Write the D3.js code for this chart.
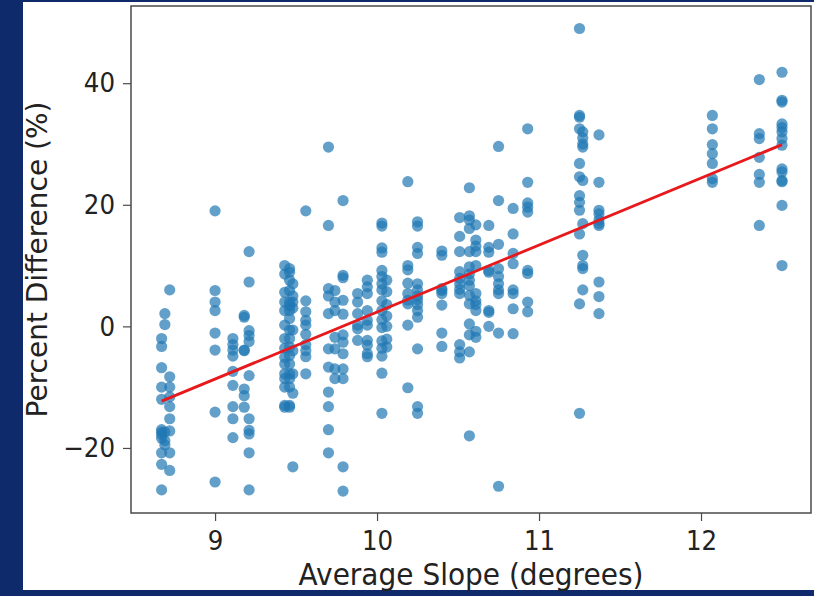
<!DOCTYPE html>
<html lang="en">

<head>
    <meta charset="UTF-8">
    <title>Average Slope vs Percent Difference</title>
    <style>
        * {
            margin: 0;
            padding: 0;
        }

        html,
        body {
            overflow: hidden;
            background: #0e2a6b;
        }

        text {
            font-family: 'DejaVu Sans', sans-serif;
        }
    </style>
</head>

<body>
    <div id="chart"></div>
    <script src="https://cdn.jsdelivr.net/npm/d3@7"></script>
    <script>
        // slope columns (degrees) and the percent differences stacked in each column
        const slopeColumns = [8.67, 8.69, 8.72, 9.0, 9.11, 9.18, 9.21, 9.43, 9.46, 9.48, 9.56, 9.70, 9.74, 9.79,
            9.88, 9.94, 10.03, 10.06, 10.19, 10.25, 10.40, 10.51, 10.57, 10.61, 10.69, 10.75, 10.84, 10.93,
            11.25, 11.27, 11.37, 12.07, 12.36, 12.50]

        const percentDiffs = [
            [-2.0, -3.3, -6.8, -10.0, -12.0, -17.0, -17.4, -17.8, -18.4, -20.8, -22.7, -26.9],
            [2.1, 0.3, -17.4, -18.8, -19.5],
            [6.0, -8.3, -10.0, -11.6, -13.2, -15.2, -17.2, -20.8, -23.7],
            [19.0, 5.9, 4.0, 2.6, -1.1, -3.9, -14.1, -25.6],
            [-2.0, -3.0, -3.9, -4.9, -7.4, -9.7, -13.2, -15.2, -18.3],
            [1.8, 1.5, -3.9, -4.0, -10.3, -11.4, -13.3],
            [12.3, 7.3, -0.7, -1.5, -2.5, -8.1, -15.2, -17.1, -17.7, -20.8, -26.9],
            [10.0, 8.6, 5.6, 4.0, 2.6, 0.2, -2.0, -3.6, -5.1, -6.2, -7.8, -8.6, -10.0, -13.0, -13.3],
            [9.5, 8.9, 7.6, 5.9, 4.0, 3.4, 2.6, 1.3, -0.6, -2.0, -3.4, -4.8, -6.2, -7.8, -8.6, -10.0, -13.0, -13.3],
            [7.0, 5.0, 4.0, 3.0, -0.6, -4.0, -7.8, -11.0, -23.1],
            [19.0, 4.2, 2.4, 1.0, 0.2, -1.3, -3.0, -4.0, -5.0, -7.8],
            [29.5, 16.6, 6.2, 5.0, 2.1, -3.7, -6.7, -10.8, -13.2, -17.0, -20.8],
            [5.9, 4.0, 2.6, -1.8, -3.7, -7.0, -8.6],
            [20.7, 8.4, 8.0, 4.3, 2.0, -1.4, -2.6, -4.5, -7.0, -8.6, -23.1, -27.1],
            [5.4, 4.0, 2.1, 0.2, -0.4, -2.3],
            [7.6, 6.5, 5.4, 2.6, 1.0, 0.2, -2.3, -3.1, -4.5, -5.0],
            [17.0, 16.5, 12.9, 12.2, 9.2, 8.2, 7.0, 6.0, 4.2, 2.6, 1.1, -0.2, -2.4, -3.6, -4.9, -7.7, -14.3],
            [7.6, 5.7, 3.6, 1.7, 0.0, -2.1, -3.4],
            [23.8, 10.0, 9.3, 7.1, 5.4, 4.3, 3.7, 0.2, -10.1],
            [17.2, 16.5, 13.0, 12.0, 7.0, 6.0, 5.0, 4.4, 3.6, 2.6, 1.5, -3.7, -13.2, -14.3],
            [12.4, 11.7, 6.2, 5.9, 5.4, 3.5, -1.1, -3.3],
            [17.9, 14.8, 12.3, 9.0, 7.9, 7.0, 6.1, 5.4, -3.0, -4.2, -5.2],
            [22.8, 18.2, 17.5, 16.1, 12.3, 9.8, 8.6, 7.6, 6.7, 5.1, 3.7, 0.4, -1.4, -4.2, -18.0],
            [16.7, 14.2, 13.2, 12.3, 10.0, 5.4, 4.2, 3.6, 2.6, -0.8, -1.8],
            [16.6, 13.0, 12.2, 9.2, 8.9, 2.6, 2.3, 0.0],
            [29.6, 20.7, 13.5, 9.5, 8.2, 7.0, 6.0, 5.4, -1.1, -26.3],
            [19.4, 15.2, 12.0, 10.3, 6.0, 5.4, 2.9, -1.2],
            [32.5, 23.7, 20.3, 19.6, 18.8, 9.2, 8.7, 4.0, 2.4],
            [49.0, 34.7, 34.4, 32.5, 26.8, 24.6, 21.5, 20.4, 19.1, 15.2, 3.7, -14.3],
            [32.0, 31.0, 30.0, 29.5, 24.0, 16.9, 11.7, 10.0, 9.5, 6.0],
            [31.5, 23.7, 19.1, 18.5, 17.5, 16.9, 16.6, 7.3, 4.9, 2.1],
            [34.7, 32.5, 29.9, 28.4, 26.8, 24.3, 23.7],
            [40.6, 31.7, 30.9, 27.8, 25.0, 23.7, 16.6],
            [41.8, 37.2, 36.9, 33.3, 32.7, 32.0, 30.9, 29.8, 25.9, 25.4, 24.0, 23.8, 19.9, 10.0]
        ]

        // fitted trend line end points
        const fitSlope = [8.67, 12.5]
        const fitDiff = [-12.3, 29.9]

        const xTicks = [9, 10, 11, 12]
        const yTicks = [-20, 0, 20, 40]

        function drawChart() {
            const width = 814
            const height = 596

            const svg = d3.select('#chart')
                .append('svg')
                .attr('width', width)
                .attr('height', height)
                .style('display', 'block')

            // navy slide background with white chart panel
            svg.append('rect')
                .attr('width', width)
                .attr('height', height)
                .attr('fill', '#0e2a6b')
            svg.append('rect')
                .attr('x', 23)
                .attr('y', 2)
                .attr('width', width - 23)
                .attr('height', 588)
                .attr('fill', '#fff')

            const plot = { left: 131, right: 811, top: 6, bottom: 513 }

            const x = d3.scaleLinear()
                .domain([8.481, 12.679])
                .range([plot.left, plot.right])

            const y = d3.scaleLinear()
                .domain([-30.7, 52.7])
                .range([plot.bottom, plot.top])

            const points = slopeColumns.flatMap((s, i) => percentDiffs[i].map(v => ({ slope: s, diff: v })))

            svg.append('g')
                .selectAll('circle')
                .data(points)
                .join('circle')
                .attr('cx', d => x(d.slope))
                .attr('cy', d => y(d.diff))
                .attr('r', 5.6)
                .attr('fill', '#1f77b4')
                .attr('fill-opacity', 0.7)

            svg.append('path')
                .datum(fitSlope.map((s, i) => [s, fitDiff[i]]))
                .attr('d', d3.line().x(d => x(d[0])).y(d => y(d[1])))
                .attr('fill', 'none')
                .attr('stroke', '#e8191c')
                .attr('stroke-width', 2.8)

            // frame
            svg.append('rect')
                .attr('x', plot.left)
                .attr('y', plot.top)
                .attr('width', plot.right - plot.left)
                .attr('height', plot.bottom - plot.top)
                .attr('fill', 'none')
                .attr('stroke', '#4a4a4a')
                .attr('stroke-width', 1.5)

            const xAxis = svg.append('g')
                .attr('transform', `translate(0, ${plot.bottom})`)
                .call(d3.axisBottom(x).tickValues(xTicks).tickSize(8).tickPadding(8).tickFormat(d3.format('d')))

            const yAxis = svg.append('g')
                .attr('transform', `translate(${plot.left}, 0)`)
                .call(d3.axisLeft(y).tickValues(yTicks).tickSize(8).tickPadding(8).tickFormat(d3.format('d')))

            // the slide image is a bit stretched vertically, so the labels are too
            for (const ax of [xAxis, yAxis]) {
                ax.select('.domain').remove()
                ax.selectAll('line').attr('stroke', '#4a4a4a').attr('stroke-width', 1.2)
                ax.selectAll('text')
                    .attr('fill', '#222')
                    .attr('transform', 'scale(1, 1.1)')
                    .style('font-size', '24.5px')
                    .style('font-family', "'DejaVu Sans', sans-serif")
            }

            svg.append('text')
                .attr('transform', `translate(${(plot.left + plot.right) / 2}, 585) scale(1, 1.1)`)
                .attr('text-anchor', 'middle')
                .attr('fill', '#222')
                .style('font-size', '28px')
                .text('Average Slope (degrees)')

            svg.append('text')
                .attr('transform', `translate(47, ${(plot.top + plot.bottom) / 2}) rotate(-90)`)
                .attr('text-anchor', 'middle')
                .attr('fill', '#222')
                .style('font-size', '28px')
                .text('Percent Difference (%)')
        }

        drawChart()
    </script>
</body>

</html>
